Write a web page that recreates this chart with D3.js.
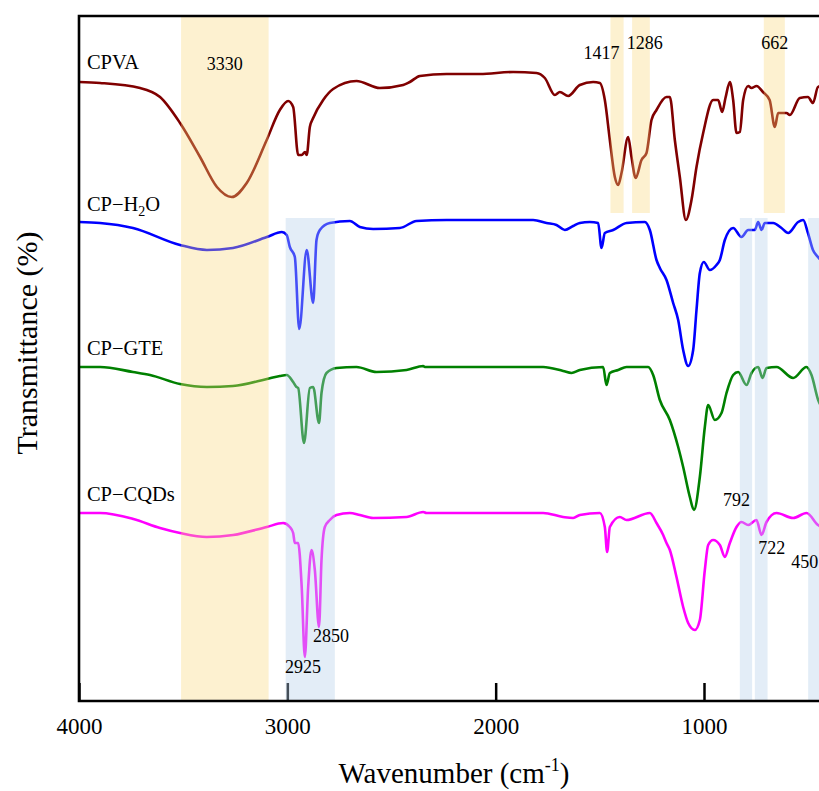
<!DOCTYPE html>
<html>
<head>
<meta charset="utf-8">
<script src="https://cdn.jsdelivr.net/npm/d3@7"></script>
<style>
  body { margin: 0; background: #fff; }
  svg { display: block; font-family: "Liberation Serif", "Times New Roman", serif; }
  svg text { font-family: "Liberation Serif", "Times New Roman", serif; }
</style>
</head>
<body>
<svg id="chart"></svg>
<script>
// spectra: [wavenumber, transmittance (offset, a.u.)]
const cpva = [
  [4000,619],[3899,618],[3707,613],[3611,604],[3515,578],[3419,544],[3338,514],[3267,504],
  [3195,518],[3099,561],[3036,591],[2996,600],[2972,594],[2948,546],[2931,546],[2915,549],
  [2907,546],[2892,574],[2876,583],[2828,601],[2780,612],[2668,620],[2556,613],[2444,616],
  [2412,619],[2364,625],[2236,627],[2076,627],[1916,629],[1804,628],[1764,623],[1716,606],
  [1692,609],[1652,605],[1596,616],[1532,619],[1500,618],[1476,601],[1452,561],[1428,524],
  [1412,516],[1396,528],[1364,564],[1348,544],[1328,523],[1300,541],[1276,548],[1252,581],
  [1228,591],[1180,604],[1164,604],[1140,561],[1116,524],[1087,481],[1060,501],[1036,534],
  [1004,568],[956,601],[932,601],[913,589],[897,603],[876,619],[860,601],[844,568],
  [828,569],[812,601],[788,615],[772,613],[748,615],[717,609],[685,601],[660,574],
  [644,588],[604,588],[588,586],[540,603],[501,604],[477,598],[453,614],[420,616]
];
const cpH2O = [
  [4000,479],[3899,478],[3741,473],[3515,456],[3386,451],[3261,453],[3098,464],[3026,469],
  [3003,466],[2988,454],[2964,444],[2943,372],[2907,451],[2876,398],[2860,461],[2844,471],
  [2796,478],[2700,480],[2652,474],[2588,472],[2460,473],[2380,480],[2236,481],[1820,481],
  [1756,478],[1708,476],[1668,471],[1628,475],[1596,478],[1548,479],[1508,478],[1492,453],
  [1476,468],[1436,471],[1372,478],[1284,479],[1260,471],[1228,441],[1212,433],[1180,421],
  [1148,398],[1124,381],[1100,351],[1076,335],[1052,351],[1036,391],[1020,428],[1001,439],
  [972,431],[940,436],[924,441],[900,461],[860,473],[820,464],[788,471],[756,471],
  [740,479],[724,471],[708,478],[668,478],[628,473],[596,468],[548,479],[524,481],
  [501,468],[477,451],[453,444],[420,436]
];
const cpGTE = [
  [4000,334],[3899,334],[3741,329],[3659,326],[3515,317],[3386,314],[3261,315],[3098,322],
  [3036,325],[3003,326],[2972,319],[2956,314],[2948,313],[2920,258],[2892,313],[2876,314],
  [2848,278],[2836,308],[2812,328],[2764,333],[2668,334],[2572,329],[2428,331],[2348,335],
  [2340,334],[2236,334],[1772,334],[1676,330],[1636,328],[1596,331],[1484,334],[1468,316],
  [1452,328],[1412,331],[1372,334],[1268,334],[1244,326],[1212,301],[1164,281],[1124,254],
  [1100,234],[1068,204],[1048,191],[1020,224],[996,274],[980,296],[948,281],[916,288],
  [892,308],[860,326],[836,329],[796,316],[772,328],[740,334],[719,323],[700,333],
  [652,334],[572,323],[508,334],[484,326],[452,301],[420,290]
];
const cpCQDs = [
  [4000,188],[3899,188],[3739,182],[3611,173],[3515,168],[3387,164],[3260,166],[3099,174],
  [3020,178],[2988,174],[2972,168],[2964,158],[2948,158],[2931,114],[2916,44],[2900,114],
  [2884,151],[2868,131],[2848,74],[2836,141],[2820,174],[2796,181],[2764,186],[2700,188],
  [2652,186],[2588,183],[2428,184],[2348,189],[2332,188],[2236,188],[1772,188],[1676,184],
  [1628,183],[1596,186],[1500,188],[1476,174],[1465,149],[1452,174],[1404,184],[1372,181],
  [1260,188],[1228,178],[1196,166],[1180,158],[1164,151],[1132,124],[1100,94],[1076,78],
  [1044,71],[1020,81],[996,131],[980,156],[956,161],[924,156],[900,144],[876,158],
  [844,174],[820,179],[788,176],[748,181],[724,166],[700,179],[652,188],[572,183],
  [508,188],[453,176],[420,172]
];

const seriesNames = ['CPVA', 'CP\u2212H2O', 'CP\u2212GTE', 'CP\u2212CQDs'];
const seriesData = [cpva, cpH2O, cpGTE, cpCQDs];
const seriesColors = ['#800000', '#0000ff', '#008000', '#ff00ff'];
// label anchor [wavenumber, transmittance]
const seriesLabelPos = [[3962,632],[3962,490],[3962,346],[3962,200]];

const xTicks = [4000, 3000, 2000, 1000];

// highlighted bands: [from, to, bottom, top] in data units
const oBands = [[3510,3090,0,685],[1449,1386,488,685],[1345,1260,488,685],[713,612,488,685]];
const bBands = [[3008,2772,0,483],[828,769,0,483],[756,695,0,483],[500,400,0,483]];

// peak labels: [text, wavenumber, transmittance]
const peakLabels = [
  ['3330',3300,631],['1417',1492,642],['1286',1284,652],['662',661,652],
  ['792',844,195],['722',675,147],['450',517,133],['2925',2925,28],['2850',2791,59]
];

const W = 819, H = 791;
const margin = { top: 16, left: 79, bottom: 90 };
const plotH = H - margin.top - margin.bottom; // 685
const serif = '"Liberation Serif", "Times New Roman", serif';

const svg = d3.select('#chart').attr('width', W).attr('height', H);

const x = d3.scaleLinear().domain([4000, 400]).range([margin.left, margin.left + 750]);
const y = d3.scaleLinear().domain([0, 685]).range([margin.top + plotH, margin.top]);

// spectra
const line = d3.line()
  .x(d => x(d[0]))
  .y(d => y(d[1]))
  .curve(d3.curveMonotoneX);

svg.selectAll('.spec')
  .data(seriesData)
  .enter().append('path')
  .attr('class', 'spec')
  .attr('d', line)
  .attr('fill', 'none')
  .attr('stroke', (d, i) => seriesColors[i])
  .attr('stroke-width', 2.6)
  .attr('stroke-linejoin', 'round');

// bottom axis with inward ticks
const xAxis = svg.append('g')
  .attr('transform', `translate(0,${y(0)})`)
  .call(d3.axisBottom(x).tickValues(xTicks).tickFormat(d3.format('d'))
    .tickSizeInner(-18).tickSizeOuter(0).tickPadding(17))
  .attr('font-family', serif)
  .attr('font-size', 23);
xAxis.select('.domain').remove();
xAxis.selectAll('.tick line').attr('stroke', '#000').attr('stroke-width', 2.5);
xAxis.selectAll('.tick text').attr('fill', '#000');

// bands drawn on top, translucent
function drawBands(list, color, op) {
  svg.selectAll(null)
    .data(list)
    .enter().append('rect')
    .attr('x', d => x(d[0]))
    .attr('width', d => x(d[1]) - x(d[0]))
    .attr('y', d => y(d[3]))
    .attr('height', d => y(d[2]) - y(d[3]))
    .attr('fill', color)
    .attr('fill-opacity', op);
}
drawBands(oBands, 'rgb(250,215,120)', 0.35);
drawBands(bBands, 'rgb(182,208,234)', 0.38);

// frame
const x0 = x(4000), x1 = x(400), yb = y(0), yt = y(685);
svg.append('path')
  .attr('d', `M${x1},${yt}H${x0}V${yb}H${x1}`)
  .attr('fill', 'none')
  .attr('stroke', '#000')
  .attr('stroke-width', 2.6);

// series labels
const lab = svg.selectAll('.slab')
  .data(seriesNames)
  .enter().append('text')
  .attr('class', 'slab')
  .attr('x', (d, i) => x(seriesLabelPos[i][0]))
  .attr('y', (d, i) => y(seriesLabelPos[i][1]))
  .style('font-size', '20.5px')
  .attr('fill', '#000');
lab.each(function (d) {
  const t = d3.select(this);
  const m = d.match(/^(.*H)2(O)$/);
  if (m) {
    t.append('tspan').text(m[1]);
    t.append('tspan').text('2').attr('dy', 5).style('font-size', '14px');
    t.append('tspan').text(m[2]).attr('dy', -5);
  } else {
    t.text(d);
  }
});

// peak labels
svg.selectAll('.plab')
  .data(peakLabels)
  .enter().append('text')
  .attr('class', 'plab')
  .attr('x', d => x(d[1]))
  .attr('y', d => y(d[2]))
  .attr('text-anchor', 'middle')
  .style('font-size', '18px')
  .attr('fill', '#000')
  .text(d => d[0]);

// axis titles
const xt = svg.append('text')
  .attr('x', 454).attr('y', 783)
  .attr('text-anchor', 'middle')
  .style('font-size', '29px')
  .attr('fill', '#000');
xt.append('tspan').text('Wavenumber (cm');
xt.append('tspan').text('-1').attr('dy', -12).style('font-size', '18px');
xt.append('tspan').text(')').attr('dy', 12);

svg.append('text')
  .attr('transform', 'translate(37,343) rotate(-90)')
  .attr('text-anchor', 'middle')
  .style('font-size', '30px')
  .attr('fill', '#000')
  .text('Transmittance (%)');
</script>
</body>
</html>
